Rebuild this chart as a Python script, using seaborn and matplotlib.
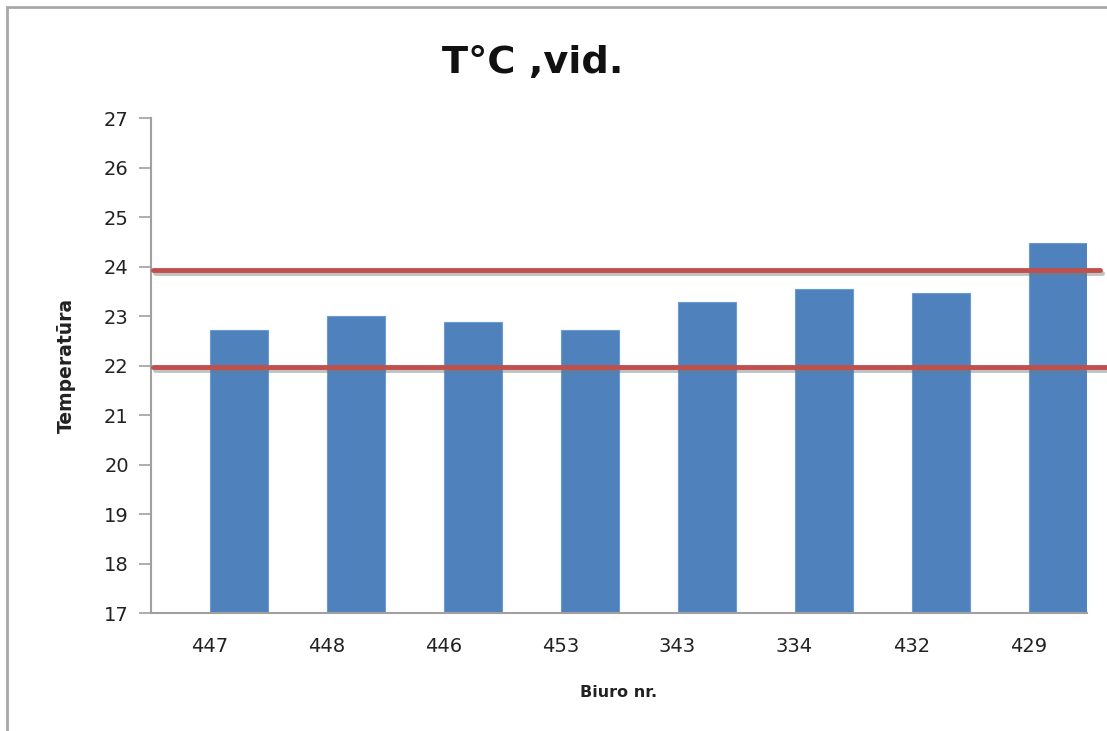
import matplotlib
matplotlib.use("Agg")
import matplotlib.pyplot as plt
import matplotlib.patheffects as pe
from matplotlib.patches import Rectangle
import seaborn as sns
import pandas as pd
import numpy as np

offices = ["447", "448", "446", "453", "343", "334", "432", "429"]
temps = [22.72, 23.0, 22.88, 22.72, 23.28, 23.55, 23.46, 24.47]
limit_upper = 23.93
limit_lower = 21.97
yticks = list(range(17, 28))
series = ["norma", "T°C"]

sns.set_theme(style="white")
plt.rcParams['font.family'] = ['DejaVu Sans']

W, H = 1107, 731
fig = plt.figure(figsize=(W / 100, H / 100), dpi=100)
ax = fig.add_axes([151 / W, (H - 613) / H, (1087 - 151) / W, (613 - 118) / H])

# Excel-style clustered bars: an empty first series pushes the bars right
df = pd.DataFrame({
    "office": offices * 2,
    "temp": [np.nan] * len(offices) + temps,
    "series": [series[0]] * len(offices) + [series[1]] * len(offices),
})
sns.barplot(data=df, x="office", y="temp", hue="series", order=offices,
            hue_order=series, palette=["#C0504D", "#4F81BD"], width=1.0, gap=0,
            saturation=1, ax=ax, edgecolor="#6C9BD2", linewidth=0.8, legend=False)

ax.set_ylim(17, 27)
ax.set_xlim(-0.5, len(offices) - 0.5)
ax.set_yticks(yticks)
ax.tick_params(axis="y", direction="out", length=9, width=1.2, color="#A0A0A0",
               labelsize=14, labelcolor="#222222", pad=7, left=True)
ax.tick_params(axis="x", length=0, labelsize=14, labelcolor="#222222", pad=17)

for s in ["top", "right"]:
    ax.spines[s].set_visible(False)
for s in ["left", "bottom"]:
    ax.spines[s].set_color("#A0A0A0")
    ax.spines[s].set_linewidth(1.5)

ax.set_xlabel("Biuro nr.", fontsize=11.5, fontweight="bold", color="#222222", labelpad=21)
ax.set_ylabel("Temperatūra", fontsize=13.5, fontweight="bold", color="#222222", labelpad=20)

tr = ax.get_yaxis_transform()
shadow = [pe.SimpleLineShadow(offset=(1.5, -2.5), shadow_color="#777777", alpha=0.45), pe.Normal()]
ax.plot([0.002, 1.014], [limit_upper, limit_upper], transform=tr, color="#C0504D",
        lw=3.5, clip_on=False, solid_capstyle="round", path_effects=shadow, zorder=5)
ax.plot([0.002, 1.03], [limit_lower, limit_lower], transform=tr, color="#C0504D",
        lw=3.5, clip_on=False, solid_capstyle="round", path_effects=shadow, zorder=5)

fig.text(533 / W, 1 - 63 / H, "T°C ,vid.", ha="center", va="center",
         fontsize=27.5, fontweight="bold", color="#111111")

fig.patches.append(Rectangle((7 / W, -0.1), 1.2, 1 - 7 / H + 0.1, transform=fig.transFigure,
                             fill=False, edgecolor="#A8A8A8", linewidth=2, zorder=0))

fig.savefig("out.png", dpi=100)
